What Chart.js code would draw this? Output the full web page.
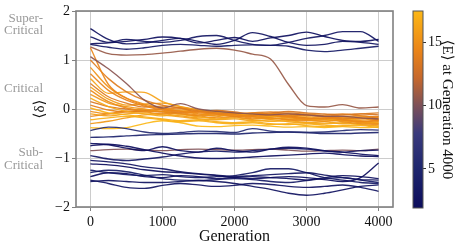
<!DOCTYPE html>
<html>
<head>
<meta charset="utf-8">
<script src="https://cdn.jsdelivr.net/npm/chart.js@4.4.1/dist/chart.umd.min.js"></script>
<style>
  html, body { margin: 0; padding: 0; background: #fff; }
  #wrap { position: relative; width: 466px; height: 250px; }
  #deltaChart { position: absolute; left: 0; top: 0; }
  #colorBar { position: absolute; left: 400px; top: 0; }
</style>
</head>
<body>
<div id="wrap">
  <canvas id="deltaChart" width="400" height="250"></canvas>
  <canvas id="colorBar" width="66" height="250"></canvas>
</div>
<script>
// sample points along the run (generation)
const generations = [0, 250, 500, 750, 1000, 1250, 1500, 1750, 2000, 2250, 2500, 2750, 3000, 3250, 3500, 3750, 4000];

const xTicks = [0, 1000, 2000, 3000, 4000];
const yTicks = [-2, -1, 0, 1, 2];
const cbTicks = [5, 10, 15];

// super-critical runs that stay up near 1.4
const navyTopRuns = [
  [1.64, 1.42, 1.33, 1.35, 1.40, 1.44, 1.38, 1.32, 1.40, 1.56, 1.48, 1.36, 1.30, 1.32, 1.38, 1.36, 1.32],
  [1.47, 1.36, 1.42, 1.38, 1.36, 1.40, 1.48, 1.50, 1.40, 1.32, 1.30, 1.36, 1.44, 1.50, 1.58, 1.58, 1.38],
  [1.33, 1.35, 1.38, 1.42, 1.47, 1.44, 1.35, 1.40, 1.46, 1.38, 1.45, 1.50, 1.57, 1.48, 1.40, 1.38, 1.42],
  [1.32, 1.26, 1.22, 1.25, 1.30, 1.32, 1.30, 1.28, 1.30, 1.31, 1.30, 1.28, 1.20, 1.17, 1.20, 1.24, 1.28]
];
const navyTopE = [2.6, 3.1, 2.3, 3.6];

const brownRuns = [
  [1.27, 1.13, 1.10, 1.11, 1.14, 1.18, 1.22, 1.24, 1.20, 1.12, 1.02, 0.50, 0.07, 0.04, 0.09, 0.02, 0.04],
  [1.07, 0.82, 0.52, 0.18, 0.02, 0.11, 0.00, -0.05, -0.08, -0.10, -0.12, -0.10, -0.12, -0.15, -0.15, -0.18, -0.20],
  [-0.85, -0.83, -0.82, -0.84, -0.85, -0.83, -0.82, -0.83, -0.84, -0.83, -0.82, -0.84, -0.86, -0.85, -0.84, -0.85, -0.82]
];
const brownE = [10.8, 10.4, 10.1];

// runs that settle into the critical band
const orangeRuns = [
  [1.25, 0.50, 0.22, 0.08, 0.00, -0.05, -0.08, -0.10, -0.12, -0.15, -0.13, -0.16, -0.20, -0.18, -0.22, -0.25, -0.24],
  [1.00, 0.62, 0.35, 0.18, 0.08, 0.02, -0.04, -0.08, -0.10, -0.08, -0.12, -0.15, -0.12, -0.16, -0.20, -0.18, -0.22],
  [0.85, 0.45, 0.22, 0.10, 0.02, -0.04, -0.10, -0.14, -0.12, -0.16, -0.20, -0.18, -0.22, -0.25, -0.22, -0.28, -0.30],
  [0.72, 0.38, 0.18, 0.06, -0.02, -0.06, -0.05, -0.10, -0.15, -0.13, -0.10, -0.14, -0.18, -0.20, -0.16, -0.14, -0.18],
  [0.62, 0.32, 0.35, 0.34, 0.15, 0.05, -0.02, -0.06, -0.10, -0.12, -0.15, -0.14, -0.18, -0.22, -0.20, -0.24, -0.28],
  [0.52, 0.25, 0.12, 0.04, 0.06, 0.02, -0.06, -0.04, -0.08, -0.12, -0.10, -0.08, -0.12, -0.15, -0.12, -0.10, -0.08],
  [0.45, 0.20, 0.08, 0.10, 0.12, 0.05, -0.02, -0.08, -0.12, -0.10, -0.14, -0.18, -0.16, -0.20, -0.24, -0.26, -0.30],
  [0.38, 0.15, 0.02, -0.04, -0.06, -0.10, -0.14, -0.12, -0.16, -0.20, -0.18, -0.22, -0.24, -0.22, -0.26, -0.30, -0.32],
  [0.30, 0.12, 0.05, 0.00, -0.05, -0.02, -0.06, -0.10, -0.08, -0.12, -0.16, -0.14, -0.12, -0.16, -0.18, -0.16, -0.20],
  [0.22, 0.05, -0.05, -0.10, -0.14, -0.12, -0.16, -0.20, -0.18, -0.22, -0.25, -0.24, -0.28, -0.30, -0.28, -0.32, -0.35],
  [0.15, 0.05, 0.00, -0.03, -0.06, -0.08, -0.05, -0.03, -0.06, -0.10, -0.08, -0.05, -0.08, -0.10, -0.12, -0.10, -0.12],
  [0.08, -0.02, -0.06, -0.04, 0.00, 0.02, -0.03, -0.08, -0.10, -0.08, -0.06, -0.10, -0.14, -0.12, -0.10, -0.14, -0.16],
  [0.02, -0.08, -0.12, -0.16, -0.20, -0.24, -0.22, -0.26, -0.28, -0.26, -0.30, -0.32, -0.30, -0.33, -0.35, -0.34, -0.38],
  [-0.05, -0.10, -0.06, -0.02, -0.05, -0.10, -0.14, -0.18, -0.16, -0.14, -0.18, -0.22, -0.20, -0.18, -0.22, -0.20, -0.24],
  [-0.10, -0.14, -0.10, -0.08, -0.12, -0.16, -0.20, -0.22, -0.20, -0.24, -0.22, -0.26, -0.28, -0.26, -0.30, -0.28, -0.26],
  [-0.15, -0.10, -0.04, -0.06, -0.10, -0.08, -0.12, -0.10, -0.14, -0.18, -0.16, -0.12, -0.10, -0.14, -0.18, -0.20, -0.15],
  [-0.22, -0.18, -0.15, -0.18, -0.22, -0.26, -0.24, -0.28, -0.30, -0.28, -0.32, -0.30, -0.34, -0.36, -0.34, -0.32, -0.35],
  [-0.30, -0.25, -0.18, -0.12, -0.10, -0.14, -0.18, -0.16, -0.12, -0.15, -0.20, -0.18, -0.22, -0.20, -0.24, -0.26, -0.22],
  [-0.38, -0.40, -0.38, -0.30, -0.24, -0.28, -0.35, -0.36, -0.34, -0.33, -0.35, -0.37, -0.36, -0.38, -0.36, -0.38, -0.37]
];
const orangeE = [14.5, 13.8, 15.2, 14.2, 16.2, 13.5, 15.8, 14.8, 15.5, 16.5, 13.2, 14.0, 16.8, 15.0, 16.0, 14.6, 17.0, 15.6, 17.5];

// sub-critical runs
const navyLowRuns = [
  [-0.44, -0.37, -0.40, -0.47, -0.50, -0.48, -0.45, -0.46, -0.48, -0.40, -0.45, -0.47, -0.48, -0.47, -0.44, -0.42, -0.43],
  [-0.58, -0.57, -0.55, -0.53, -0.52, -0.51, -0.50, -0.50, -0.51, -0.49, -0.48, -0.47, -0.48, -0.50, -0.50, -0.49, -0.48],
  [-0.70, -0.73, -0.80, -0.85, -0.77, -0.85, -0.88, -0.80, -0.85, -0.88, -0.82, -0.78, -0.80, -0.85, -0.88, -0.92, -0.95],
  [-0.75, -0.72, -0.76, -0.83, -0.90, -0.96, -1.00, -1.01, -1.00, -0.98, -0.96, -0.94, -0.92, -0.90, -0.93, -0.96, -0.97],
  [-0.95, -1.02, -1.05, -1.02, -0.98, -0.92, -0.88, -0.86, -0.88, -0.85, -0.82, -0.80, -0.82, -0.86, -0.88, -0.85, -0.84],
  [-1.05, -1.08, -1.12, -1.18, -1.22, -1.28, -1.32, -1.35, -1.38, -1.36, -1.34, -1.32, -1.30, -1.35, -1.40, -1.44, -1.45],
  [-1.12, -1.14, -1.18, -1.24, -1.28, -1.30, -1.33, -1.36, -1.40, -1.42, -1.40, -1.38, -1.40, -1.44, -1.48, -1.40, -1.10],
  [-1.25, -1.30, -1.34, -1.36, -1.34, -1.38, -1.40, -1.38, -1.36, -1.30, -1.22, -1.22, -1.30, -1.40, -1.45, -1.50, -1.52],
  [-1.38, -1.30, -1.32, -1.38, -1.40, -1.36, -1.38, -1.42, -1.40, -1.38, -1.40, -1.42, -1.45, -1.40, -1.36, -1.38, -1.42],
  [-1.45, -1.52, -1.60, -1.62, -1.56, -1.52, -1.55, -1.58, -1.56, -1.52, -1.54, -1.58, -1.60, -1.58, -1.55, -1.60, -1.68],
  [-1.48, -1.46, -1.48, -1.50, -1.50, -1.48, -1.46, -1.48, -1.52, -1.58, -1.64, -1.72, -1.76, -1.72, -1.65, -1.58, -1.55],
  [-1.30, -1.25, -1.28, -1.35, -1.42, -1.45, -1.46, -1.44, -1.42, -1.44, -1.48, -1.50, -1.46, -1.42, -1.40, -1.45, -1.50]
];
const navyLowE = [5.8, 4.6, 2.4, 2.0, 3.2, 2.8, 1.9, 3.4, 2.2, 3.0, 2.5, 3.8];

const allE = navyTopE.concat(brownE, orangeE, navyLowE);
const cbMin = Math.min(...allE);
const cbMax = Math.max(...allE);

// colour map for <E>, dark navy -> brown -> orange
const cmapStops = [
  [0.00, [12, 12, 92]],
  [0.20, [30, 38, 110]],
  [0.38, [58, 58, 124]],
  [0.52, [125, 80, 88]],
  [0.66, [198, 104, 44]],
  [0.80, [234, 132, 24]],
  [1.00, [252, 183, 22]]
];

function cmap(t, alpha) {
  t = Math.max(0, Math.min(1, t));
  for (let i = 1; i < cmapStops.length; i++) {
    const [t1, c1] = cmapStops[i];
    const [t0, c0] = cmapStops[i - 1];
    if (t <= t1) {
      const f = (t - t0) / (t1 - t0);
      const c = c0.map((v, k) => Math.round(v + (c1[k] - v) * f));
      return `rgba(${c[0]}, ${c[1]}, ${c[2]}, ${alpha})`;
    }
  }
  return 'rgba(252, 183, 22, 1)';
}

function colorFor(e) {
  return cmap((e - cbMin) / (cbMax - cbMin), 0.92);
}

function makeDatasets(runs, energies) {
  return runs.map((run, i) => ({
    data: generations.map((g, j) => ({ x: g, y: run[j] })),
    borderColor: colorFor(energies[i]),
    borderWidth: 1.35,
    pointRadius: 0,
    fill: false,
    cubicInterpolationMode: 'monotone'
  }));
}

const fmtTick = (value) => String(value).replace('-', '\u2212');

Chart.defaults.font.family = "'Liberation Serif', 'DejaVu Serif', serif";
Chart.defaults.color = '#111';

// box around the plot area, like the matplotlib spines
function framePlugin(color, width) {
  return {
    id: 'frame',
    afterDraw(chart) {
      const { ctx, chartArea: a } = chart;
      ctx.save();
      ctx.strokeStyle = color;
      ctx.lineWidth = width;
      ctx.strokeRect(a.left, a.top, a.right - a.left, a.bottom - a.top);
      ctx.restore();
    }
  };
}

// grey regime labels on the left
const regionLabels = [
  { lines: ['Super-', 'Critical'], value: 1.72 },
  { lines: ['Critical'], value: 0.42 },
  { lines: ['Sub-', 'Critical'], value: -1.02 }
];

const regionPlugin = {
  id: 'regions',
  afterDraw(chart) {
    const { ctx } = chart;
    const y = chart.scales.y;
    ctx.save();
    ctx.fillStyle = '#9a9a9a';
    ctx.font = "13px 'Liberation Serif', serif";
    ctx.textAlign = 'right';
    ctx.textBaseline = 'middle';
    regionLabels.forEach(r => {
      const mid = y.getPixelForValue(r.value);
      const lh = 12.7;
      const start = mid - (r.lines.length - 1) * lh / 2;
      r.lines.forEach((t, i) => ctx.fillText(t, 43, start + i * lh));
    });
    ctx.restore();
  }
};

const datasets = []
  .concat(makeDatasets(navyLowRuns, navyLowE))
  .concat(makeDatasets(navyTopRuns, navyTopE))
  .concat(makeDatasets(brownRuns, brownE))
  .concat(makeDatasets(orangeRuns, orangeE));

new Chart(document.getElementById('deltaChart'), {
  type: 'line',
  data: { datasets: datasets },
  options: {
    responsive: false,
    animation: false,
    devicePixelRatio: 1,
    layout: { padding: { top: 11, right: 7, left: 0, bottom: 0 } },
    plugins: { legend: { display: false }, tooltip: { enabled: false } },
    scales: {
      x: {
        type: 'linear',
        min: -200,
        max: 4200,
        afterBuildTicks: (s) => { s.ticks = xTicks.map(v => ({ value: v })); },
        afterFit: (s) => { s.height = 43; },
        grid: { color: '#cccccc', lineWidth: 1, tickColor: '#808080', tickLength: 4 },
        border: { display: false },
        ticks: { padding: 3, font: { size: 14 }, maxRotation: 0, callback: fmtTick },
        title: { display: true, text: 'Generation', font: { size: 16 }, padding: { top: 0, bottom: 4 } }
      },
      y: {
        min: -2,
        max: 2,
        afterBuildTicks: (s) => { s.ticks = yTicks.map(v => ({ value: v })); },
        afterFit: (s) => { s.width = 76; },
        grid: { color: '#cccccc', lineWidth: 1, tickColor: '#808080', tickLength: 4 },
        border: { display: false },
        ticks: { padding: 2, font: { size: 14 }, callback: fmtTick },
        title: { display: true, text: '\u27E8\u03B4\u27E9', font: { size: 15 }, padding: { top: 31, bottom: 0 } }
      }
    }
  },
  plugins: [framePlugin('#808080', 1.6), regionPlugin]
});

// colour bar
function gradientFill(context) {
  const chart = context.chart;
  const a = chart.chartArea;
  if (!a) return null;
  const g = chart.ctx.createLinearGradient(0, a.bottom, 0, a.top);
  cmapStops.forEach(([t]) => g.addColorStop(t, cmap(t, 1)));
  return g;
}

new Chart(document.getElementById('colorBar'), {
  type: 'bar',
  data: {
    labels: ['E'],
    datasets: [{
      data: [[cbMin, cbMax]],
      backgroundColor: gradientFill,
      borderWidth: 0,
      barPercentage: 1,
      categoryPercentage: 1
    }]
  },
  options: {
    responsive: false,
    animation: false,
    devicePixelRatio: 1,
    layout: { padding: { left: 13, top: 11, bottom: 42, right: 0 } },
    plugins: { legend: { display: false }, tooltip: { enabled: false } },
    scales: {
      x: { display: false },
      y: {
        position: 'right',
        min: cbMin,
        max: cbMax,
        afterBuildTicks: (s) => { s.ticks = cbTicks.map(v => ({ value: v })); },
        afterFit: (s) => { s.width = 43; },
        grid: { drawOnChartArea: false, tickColor: '#333', tickLength: 3 },
        border: { display: false },
        ticks: { padding: 2, font: { size: 14 } },
        title: { display: true, text: '\u27E8E\u27E9 at Generation 4000', font: { size: 15 }, padding: { top: 10, bottom: 0 } }
      }
    }
  },
  plugins: [framePlugin('#555555', 1)]
});
</script>
</body>
</html>
